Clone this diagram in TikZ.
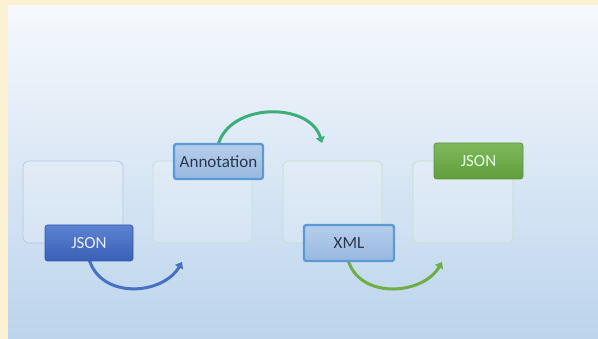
\documentclass[tikz,border=0pt]{standalone}
\usepackage{fontspec}
\setmainfont{Carlito}
\usetikzlibrary{arrows.meta}
\definecolor{cream}{HTML}{FDF1D4}
\definecolor{paneltop}{HTML}{F6F9FD}
\definecolor{panelbot}{HTML}{BCD4EC}
\definecolor{lblue}{HTML}{B3C6E8}
\definecolor{lteal}{HTML}{BEE2DA}
\definecolor{lgreen}{HTML}{C3E1C3}
\definecolor{jbtop}{HTML}{5C82D2}
\definecolor{jbbot}{HTML}{3A60B6}
\definecolor{jbedge}{HTML}{3558A8}
\definecolor{antop}{HTML}{B6CEEC}
\definecolor{anbot}{HTML}{98B8E0}
\definecolor{anedge}{HTML}{5B9BD5}
\definecolor{jgtop}{HTML}{80B95C}
\definecolor{jgbot}{HTML}{5F9D3B}
\definecolor{jgedge}{HTML}{5A9338}
\definecolor{arblue}{HTML}{4472C4}
\definecolor{arteal}{HTML}{3DAE7A}
\definecolor{argreen}{HTML}{6DAE45}
\definecolor{darktext}{HTML}{2A3848}
\tikzset{
  x=1pt,y=-1pt,
  panelbox/.style={draw, line width=0.7pt, rounded corners=6pt, fill=white, fill opacity=0.18, text opacity=1,
    minimum height=82pt, inner sep=0pt},
  labelbox/.style={rounded corners=2.5pt, inner sep=0pt, minimum height=36pt,
    font=\fontsize{17}{20}\selectfont},
  flow/.style={line width=3pt, -{Triangle[width=9pt,length=6pt]}},
}
\begin{document}
\begin{tikzpicture}
\useasboundingbox (0,0) rectangle (598,339);
\fill[cream] (0,0) rectangle (598,339);
\shade[top color=paneltop, bottom color=panelbot] (8,6) rectangle (598,339);

% light frames
\node[panelbox, draw=lblue, minimum width=100pt] (b1) at (73,202) {};
\node[panelbox, draw=lteal, minimum width=99pt] (b2) at (202.5,202) {};
\node[panelbox, draw=lgreen, minimum width=99pt] (b3) at (332.5,202) {};
\node[panelbox, draw=lgreen, minimum width=100pt] (b4) at (463,202) {};

% arrow end points
\coordinate (a1s) at (89,259);
\coordinate (a1e) at (182,262);
\coordinate (a2s) at (218,145);
\coordinate (a2e) at (322,143);
\coordinate (a3s) at (348,260);
\coordinate (a3e) at (442,262);

\draw[flow, arblue] (a1s) .. controls (101,300) and (163,295) .. (a1e);
\draw[flow, arteal] (a2s) .. controls (230,102) and (310,102) .. (a2e);
\draw[flow, argreen] (a3s) .. controls (360,300) and (423,295) .. (a3e);

% labels
\node[labelbox, top color=jbtop, bottom color=jbbot, draw=jbedge, line width=0.6pt,
  minimum width=88pt, text=white!92!blue] (json1) at (89,243) {JSON};
\node[labelbox, top color=antop, bottom color=anbot, draw=anedge, line width=2.4pt,
  minimum width=89pt, minimum height=35pt, text=darktext] (ann) at (218.5,161.5) {Annotation};
\node[labelbox, top color=antop, bottom color=anbot, draw=anedge, line width=2.4pt,
  minimum width=90pt, text=darktext] (xml) at (349,243) {XML};
\node[labelbox, top color=jgtop, bottom color=jgbot, draw=jgedge, line width=0.6pt,
  minimum width=89pt, text=white!90!green] (json2) at (478.5,161) {JSON};
\end{tikzpicture}
\end{document}
